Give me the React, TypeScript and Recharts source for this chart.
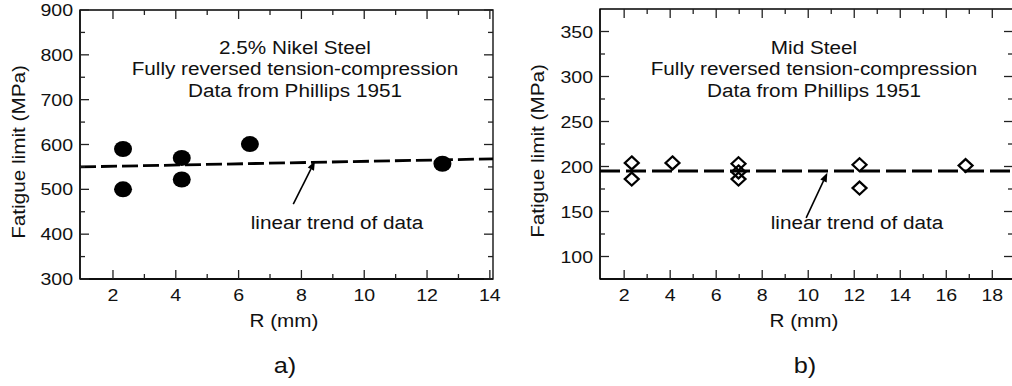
import React from "react"
import { ScatterChart, Scatter, XAxis, YAxis, ReferenceLine, ReferenceArea } from "recharts"

// a) 2.5% nickel steel
const nickelR = [2.32, 2.32, 4.19, 4.19, 6.36, 12.49]
const nickelLimit = [590, 500, 570, 522, 601, 557]
const nickelTrendR = [0.95, 14.1]
const nickelTrendLimit = [550, 568]
const nickelArrowR = [7.74, 8.43]
const nickelArrowLimit = [467, 563]
const nickelXTicks = [2, 3, 4, 5, 6, 7, 8, 9, 10, 11, 12, 13, 14]
const nickelYTicks = [300, 350, 400, 450, 500, 550, 600, 650, 700, 750, 800, 850, 900]

// b) mild steel
const mildR = [2.33, 2.33, 4.1, 6.97, 6.97, 6.97, 12.23, 12.23, 16.84]
const mildLimit = [204, 186, 204, 203, 194, 186, 202, 176, 201]
const mildTrendR = [0.95, 18.9]
const mildTrendLimit = [195, 195]
const mildArrowR = [9.91, 10.83]
const mildArrowLimit = [143, 193]
const mildXTicks = [2, 3, 4, 5, 6, 7, 8, 9, 10, 11, 12, 13, 14, 15, 16, 17, 18]
const mildYTicks = [100, 125, 150, 175, 200, 225, 250, 275, 300, 325, 350]

const FONT = "'Liberation Sans', Arial, Helvetica, sans-serif"
const STRETCH = 1.15
const H = 386
const X_AXIS_H = 30
const TICK = { stroke: "#222", strokeWidth: 1.3 }

type Box = { left: number; right: number; top: number; bottom: number }

// ticks point inwards on all four sides of the frame
const xTickRenderer = (box: Box) => (props: any) => {
  const { x, payload } = props
  const v = payload.value
  const len = v % 2 === 0 ? 9 : 5
  return (
    <g>
      <line x1={x} y1={box.bottom} x2={x} y2={box.bottom - len} {...TICK} />
      <line x1={x} y1={box.top} x2={x} y2={box.top + len} {...TICK} />
      {v % 2 === 0 && (
        <text transform={`translate(${x},${box.bottom + 16}) scale(${STRETCH},1)`} textAnchor="middle" dominantBaseline="central" fontSize={17} fontFamily={FONT} fill="#111">
          {v}
        </text>
      )}
    </g>
  )
}

const yTickRenderer = (box: Box, isMajor: (v: number) => boolean) => (props: any) => {
  const { y, payload } = props
  const v = payload.value
  const len = isMajor(v) ? 9 : 5
  return (
    <g>
      <line x1={box.left} y1={y} x2={box.left + len} y2={y} {...TICK} />
      <line x1={box.right} y1={y} x2={box.right - len} y2={y} {...TICK} />
      {isMajor(v) && (
        <text transform={`translate(${box.left - 7},${y}) scale(${STRETCH},1)`} textAnchor="end" dominantBaseline="central" fontSize={17} fontFamily={FONT} fill="#111">
          {v}
        </text>
      )}
    </g>
  )
}

const Arrow = (props: any) => {
  const { x1, y1, x2, y2 } = props
  const a = Math.atan2(y2 - y1, x2 - x1)
  const L = 9
  const W = 3.5
  const bx = x2 - L * Math.cos(a)
  const by = y2 - L * Math.sin(a)
  const px = -Math.sin(a) * W
  const py = Math.cos(a) * W
  return (
    <g>
      <line x1={x1} y1={y1} x2={bx} y2={by} stroke="#000" strokeWidth={1.6} />
      <polygon points={`${x2},${y2} ${bx + px},${by + py} ${bx - px},${by - py}`} fill="#000" />
    </g>
  )
}

const Circle = (props: any) => <ellipse cx={props.cx} cy={props.cy} rx={9} ry={8} fill="#000" />
const Diamond = (props: any) => {
  const { cx, cy } = props
  return (
    <polygon
      points={`${cx},${cy - 6.5} ${cx + 7},${cy} ${cx},${cy + 6.5} ${cx - 7},${cy}`}
      fill="none"
      stroke="#000"
      strokeWidth={2.2}
    />
  )
}
const NoDot = () => <g />

interface PanelProps {
  width: number
  margin: { top: number; right: number; bottom: number; left: number }
  yWidth: number
  xDomain: [number, number]
  yDomain: [number, number]
  xTicks: number[]
  yTicks: number[]
  yMajor: (v: number) => boolean
  points: { r: number; limit: number }[]
  trend: { r: number; limit: number }[]
  arrowR: number[]
  arrowLimit: number[]
  dash: string
  shape: any
}

function Panel(p: PanelProps) {
  const box: Box = {
    left: p.margin.left + p.yWidth,
    right: p.width - p.margin.right,
    top: p.margin.top,
    bottom: H - p.margin.bottom - X_AXIS_H,
  }
  const axisLine = { stroke: "#000", strokeWidth: 1.3 }
  return (
    <ScatterChart width={p.width} height={H} margin={p.margin}>
      <XAxis
        type="number"
        dataKey="r"
        domain={p.xDomain}
        allowDataOverflow
        ticks={p.xTicks}
        interval={0}
        height={X_AXIS_H}
        tickLine={false}
        axisLine={axisLine}
        tick={xTickRenderer(box)}
      />
      <YAxis
        type="number"
        dataKey="limit"
        domain={p.yDomain}
        allowDataOverflow
        ticks={p.yTicks}
        interval={0}
        width={p.yWidth}
        tickLine={false}
        axisLine={axisLine}
        tick={yTickRenderer(box, p.yMajor)}
      />
      <ReferenceArea
        x1={p.xDomain[0]}
        x2={p.xDomain[1]}
        y1={p.yDomain[0]}
        y2={p.yDomain[1]}
        fill="none"
        stroke="#000"
        strokeWidth={1.3}
        ifOverflow="visible"
      />
      <Scatter
        data={p.trend}
        line={{ stroke: "#000", strokeWidth: 2.8, strokeDasharray: p.dash }}
        shape={NoDot}
        isAnimationActive={false}
      />
      <Scatter data={p.points} shape={p.shape} isAnimationActive={false} />
      <ReferenceLine
        segment={[
          { x: p.arrowR[0], y: p.arrowLimit[0] },
          { x: p.arrowR[1], y: p.arrowLimit[1] },
        ]}
        shape={Arrow}
      />
    </ScatterChart>
  )
}

const Txt = ({ x, y, size = 18, rotate = false, children }: any) => (
  <div
    style={{
      position: "absolute",
      left: x,
      top: y,
      transform: `translate(-50%,-50%) ${rotate ? "rotate(-90deg) " : ""}scaleX(${STRETCH})`,
      fontSize: size,
      fontFamily: FONT,
      whiteSpace: "nowrap",
      lineHeight: "21.5px",
      textAlign: "center",
      color: "#111",
    }}
  >
    {children}
  </div>
)

export default function App() {
  const nickelPoints = nickelR.map((r, i) => ({ r, limit: nickelLimit[i] }))
  const nickelTrend = nickelTrendR.map((r, i) => ({ r, limit: nickelTrendLimit[i] }))
  const mildPoints = mildR.map((r, i) => ({ r, limit: mildLimit[i] }))
  const mildTrend = mildTrendR.map((r, i) => ({ r, limit: mildTrendLimit[i] }))

  return (
    <div style={{ position: "absolute", left: 0, top: 0, width: 1012, height: 386, overflow: "hidden", background: "#fff" }}>
      <div style={{ position: "absolute", left: 0, top: 0 }}>
        <Panel
          width={506}
          margin={{ top: 10, right: 13, bottom: 77, left: 0 }}
          yWidth={80}
          xDomain={[0.95, 14.1]}
          yDomain={[300, 900]}
          xTicks={nickelXTicks}
          yTicks={nickelYTicks}
          yMajor={(v) => v % 100 === 0}
          points={nickelPoints}
          trend={nickelTrend}
          arrowR={nickelArrowR}
          arrowLimit={nickelArrowLimit}
          dash="16 5"
          shape={Circle}
        />
      </div>
      <div style={{ position: "absolute", left: 506, top: 0 }}>
        <Panel
          width={508}
          margin={{ top: 9, right: 1, bottom: 77, left: 0 }}
          yWidth={94}
          xDomain={[0.95, 18.9]}
          yDomain={[75, 375]}
          xTicks={mildXTicks}
          yTicks={mildYTicks}
          yMajor={(v) => v % 50 === 0}
          points={mildPoints}
          trend={mildTrend}
          arrowR={mildArrowR}
          arrowLimit={mildArrowLimit}
          dash="20 6"
          shape={Diamond}
        />
      </div>

      <Txt x={295} y={69.5}>
        2.5% Nikel Steel
        <br />
        Fully reversed tension-compression
        <br />
        Data from Phillips 1951
      </Txt>
      <Txt x={337} y={224}>linear trend of data</Txt>
      <Txt x={20} y={152} rotate>Fatigue limit (MPa)</Txt>
      <Txt x={284} y={322}>R (mm)</Txt>
      <Txt x={285} y={366} size={22}>a)</Txt>

      <Txt x={814} y={69.5}>
        Mid Steel
        <br />
        Fully reversed tension-compression
        <br />
        Data from Phillips 1951
      </Txt>
      <Txt x={857} y={224}>linear trend of data</Txt>
      <Txt x={539} y={151} rotate>Fatigue limit (MPa)</Txt>
      <Txt x={804} y={322}>R (mm)</Txt>
      <Txt x={805} y={366} size={22}>b)</Txt>
    </div>
  )
}
